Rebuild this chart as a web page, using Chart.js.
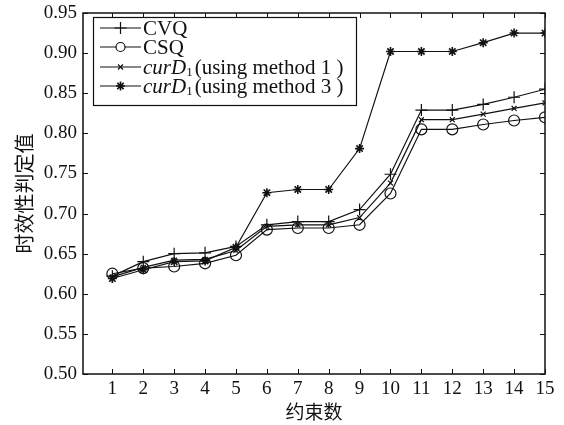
<!DOCTYPE html>
<html>
<head>
<meta charset="utf-8">
<script src="https://cdn.jsdelivr.net/npm/chart.js@4/dist/chart.umd.min.js"></script>
<style>
html,body{margin:0;padding:0;background:#fff;}
#wrap{width:564px;height:425px;position:relative;}
</style>
</head>
<body>
<div id="wrap"><canvas id="c" width="564" height="425"></canvas></div>
<script>
const categories = [1,2,3,4,5,6,7,8,9,10,11,12,13,14,15];
const cvq     = [0.622,0.640,0.650,0.651,0.659,0.686,0.690,0.690,0.705,0.749,0.829,0.829,0.836,0.845,0.855];
const csq     = [0.625,0.632,0.634,0.638,0.648,0.680,0.682,0.682,0.686,0.725,0.805,0.805,0.811,0.816,0.820];
const method1 = [0.621,0.633,0.642,0.643,0.654,0.684,0.686,0.686,0.695,0.738,0.817,0.817,0.824,0.831,0.838];
const method3 = [0.619,0.630,0.640,0.641,0.658,0.726,0.730,0.730,0.781,0.902,0.902,0.902,0.913,0.925,0.925];
const yTicks = [0.50,0.55,0.60,0.65,0.70,0.75,0.80,0.85,0.90,0.95];
const xTicks = categories;

const FONT = "'Liberation Serif','DejaVu Serif',serif";
const CJK = "'Noto Sans CJK SC','Noto Sans CJK JP',sans-serif";

function pts(arr){ return categories.map((x,i)=>({x:x,y:arr[i]})); }

const base = {borderColor:'#111',backgroundColor:'rgba(0,0,0,0)',pointBorderColor:'#111',borderWidth:1.2,pointBorderWidth:1.2,tension:0};
const datasets = [
  Object.assign({},base,{label:'CVQ',data:pts(cvq),pointStyle:'cross',pointRadius:6,pointBackgroundColor:'#111'}),
  Object.assign({},base,{label:'CSQ',data:pts(csq),pointStyle:'circle',pointRadius:5.5,pointBackgroundColor:'rgba(0,0,0,0)'}),
  Object.assign({},base,{label:'m1',data:pts(method1),pointStyle:'crossRot',pointRadius:3.5,pointBackgroundColor:'#111'}),
  Object.assign({},base,{label:'m3',data:pts(method3),pointStyle:'star',pointRadius:4.5,pointBorderWidth:1.6,pointBackgroundColor:'#111'})
];

const framePlugin = {
  id:'frame',
  afterDraw(chart){
    const ctx = chart.ctx, a = chart.chartArea;
    const xs = chart.scales.x, ys = chart.scales.y;
    ctx.save();
    ctx.strokeStyle = '#111';
    ctx.lineWidth = 1.5;
    ctx.strokeRect(a.left, a.top, a.right-a.left, a.bottom-a.top);
    ctx.lineWidth = 1;
    const tl = 5;
    ctx.beginPath();
    xTicks.forEach(v=>{
      const px = Math.round(xs.getPixelForValue(v))+0.5;
      ctx.moveTo(px,a.bottom); ctx.lineTo(px,a.bottom-tl);
      ctx.moveTo(px,a.top); ctx.lineTo(px,a.top+tl);
    });
    yTicks.forEach(v=>{
      const py = Math.round(ys.getPixelForValue(v))+0.5;
      ctx.moveTo(a.left,py); ctx.lineTo(a.left+tl,py);
      ctx.moveTo(a.right,py); ctx.lineTo(a.right-tl,py);
    });
    ctx.stroke();

    // legend
    const lx = 93, ly = 17, lw = 263, lh = 88;
    ctx.fillStyle = '#fff';
    ctx.fillRect(lx,ly,lw,lh);
    ctx.lineWidth = 1.2;
    ctx.strokeRect(lx+0.5,ly+0.5,lw,lh);
    const rows = [28,47,67,86];
    chart.data.datasets.forEach((ds,i)=>{
      const y = rows[i];
      ctx.strokeStyle = '#111';
      ctx.lineWidth = 1.2;
      ctx.beginPath(); ctx.moveTo(100,y); ctx.lineTo(141,y); ctx.stroke();
      ctx.fillStyle = (ds.pointStyle==='circle') ? '#fff' : '#111';
      ctx.lineWidth = ds.pointBorderWidth;
      Chart.helpers.drawPoint(ctx,{pointStyle:ds.pointStyle,radius:ds.pointStyle==='circle'?4.5:ds.pointRadius,borderWidth:ds.pointBorderWidth},120.5,y);
      ctx.fillStyle = '#111';
      ctx.textBaseline = 'middle';
      ctx.textAlign = 'left';
      if(i<2){
        ctx.font = '21px '+FONT;
        ctx.fillText(ds.label,143,y+1);
      } else {
        let x = 143;
        ctx.font = 'italic 21px '+FONT;
        ctx.fillText('curD',x,y+1);
        x += ctx.measureText('curD').width;
        ctx.font = '13px '+FONT;
        ctx.fillText('1',x,y+6);
        x += ctx.measureText('1').width;
        ctx.font = '21px '+FONT;
        const t = (i===2)?'(using method 1 )':'(using method 3 )';
        ctx.fillText(t,x+2,y+1);
      }
    });
    ctx.restore();
  }
};

new Chart(document.getElementById('c'),{
  type:'line',
  data:{datasets:datasets},
  options:{
    responsive:false,
    animation:false,
    devicePixelRatio:1,
    layout:{padding:{top:13,right:19,left:0,bottom:0}},
    plugins:{legend:{display:false},tooltip:{enabled:false}},
    scales:{
      x:{
        type:'linear',min:0.05,max:15,
        afterBuildTicks(s){ s.ticks = xTicks.map(v=>({value:v})); },
        afterFit(s){ s.height = 51; s.paddingLeft = 0; s.paddingRight = 0; },
        grid:{display:false,drawTicks:false},
        border:{display:false},
        ticks:{color:'#111',font:{family:FONT,size:19},padding:4,maxRotation:0,autoSkip:false,callback:v=>String(v)},
        title:{display:true,text:'约束数',color:'#111',font:{family:CJK,size:19},padding:{top:0,bottom:2}}
      },
      y:{
        min:0.5,max:0.95,
        afterBuildTicks(s){ s.ticks = yTicks.map(v=>({value:v})); },
        afterFit(s){ s.width = 83; s.paddingTop = 0; },
        grid:{display:false,drawTicks:false},
        border:{display:false},
        ticks:{color:'#111',font:{family:FONT,size:19},padding:6,callback:v=>v.toFixed(2)},
        title:{display:true,text:'时效性判定值',color:'#111',font:{family:CJK,size:20},padding:{top:12,bottom:0}}
      }
    }
  },
  plugins:[framePlugin]
});
</script>
</body>
</html>
